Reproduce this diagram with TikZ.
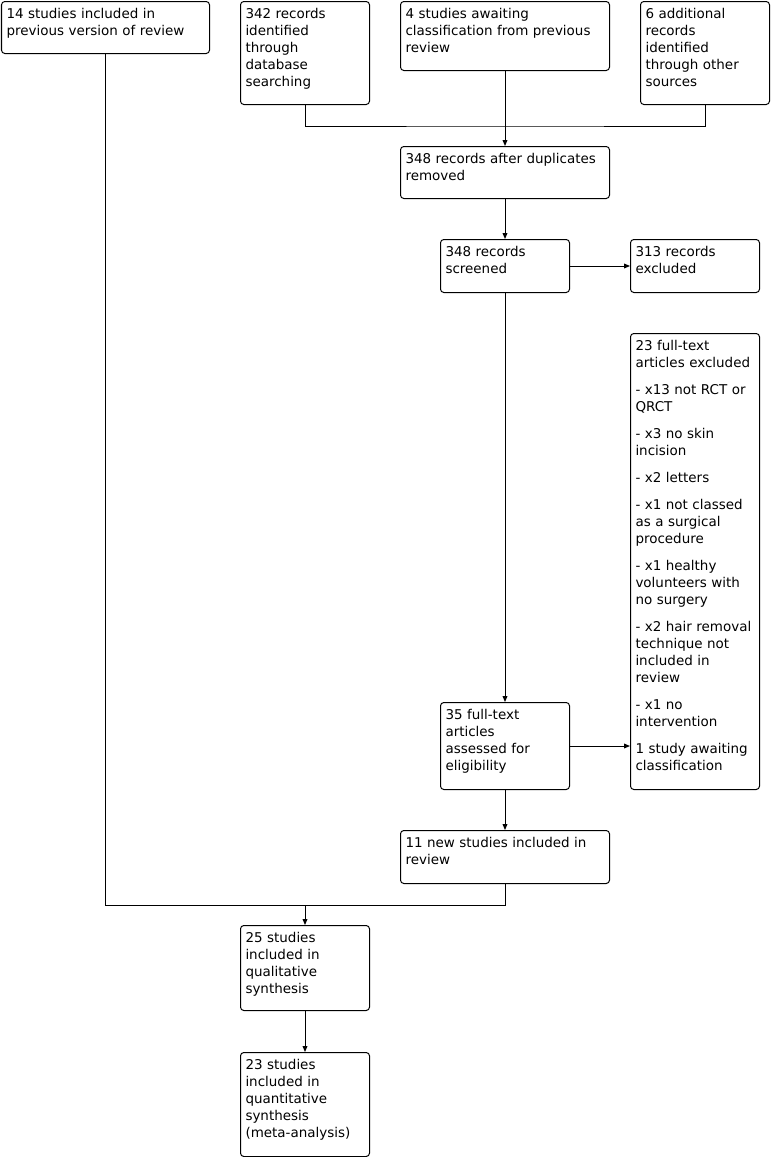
\documentclass[tikz,border=0pt]{standalone}
\usepackage{fontspec}
\setmainfont{DejaVu Sans}
\usetikzlibrary{arrows.meta,positioning,calc}

\begin{document}
\begin{tikzpicture}[x=0.75pt, y=-0.75pt,
    pbox/.style 2 args={draw, line width=0.75pt, rounded corners=2.5pt, anchor=north west,
      align=left, inner xsep=3.75pt, inner ysep=5.25pt, text height=7.5pt,
      text width=#1, text depth=#2, font=\fontsize{10.1pt}{12.75pt}\selectfont},
    arr/.style={line width=0.75pt, -{Triangle[length=4.5pt,width=3.6pt]}},
    ln/.style={line width=0.75pt}]
  \useasboundingbox (0,0) rectangle (772,1157);
  % top row
  \node[pbox={148.5pt}{21pt}] (prev) at (1,1) {14 studies included in\\previous version of review};
  \node[pbox={89.25pt}{59.25pt}] (db) at (240,1) {342 records\\identified\\through\\database\\searching};
  \node[pbox={149.25pt}{33.75pt}] (await) at (400,1) {4 studies awaiting\\classification from previous\\review};
  \node[pbox={89.25pt}{59.25pt}] (other) at (640,1) {6 additional\\records\\identified\\through other\\sources};
  % screening
  \node[pbox={149.25pt}{21pt}] (dupl) at (400,146) {348 records after duplicates\\removed};
  \node[pbox={89.25pt}{21.75pt}] (scr) at (440,239) {348 records\\screened};
  \node[pbox={89.25pt}{21.75pt}] (excl) at (630,239) {313 records\\excluded};
  \node[pbox={89.25pt}{324pt}] (ftex) at (630,333) {23 full-text\\articles excluded\\[7.5pt]
    - x13 not RCT or\\QRCT\\[7.5pt]
    - x3 no skin\\incision\\[7.5pt]
    - x2 letters\\[7.5pt]
    - x1 not classed\\as a surgical\\procedure\\[7.5pt]
    - x1 healthy\\volunteers with\\no surgery\\[7.5pt]
    - x2 hair removal\\technique not\\included in\\review\\[7.5pt]
    - x1 no\\intervention\\[7.5pt]
    1 study awaiting\\classification};
  \node[pbox={89.25pt}{47.25pt}] (elig) at (440,702) {35 full-text\\articles\\assessed for\\eligibility};
  \node[pbox={149.25pt}{21.75pt}] (new) at (400,830) {11 new studies included in\\review};
  % included
  \node[pbox={89.25pt}{45.75pt}] (qual) at (240,925) {25 studies\\included in\\qualitative\\synthesis};
  \node[pbox={89.25pt}{60pt}] (quant) at (240,1052) {23 studies\\included in\\quantitative\\synthesis\\(meta-analysis)};

  \coordinate (join) at (await.south |- 0,126);
  \coordinate (merge) at (qual.north |- 0,905);
  \draw[ln] (db.south) |- (join) -| (other.south);
  \draw[arr] (await.south) -- (dupl.north);
  \draw[arr] (dupl.south) -- (scr.north);
  \draw[arr] (scr.east) -- (excl.west);
  \draw[arr] (scr.south) -- (elig.north);
  \draw[arr] (elig.east) -- (elig.east -| ftex.west);
  \draw[arr] (elig.south) -- (new.north);
  \draw[ln] (prev.south) |- (merge) -| (new.south);
  \draw[arr] (merge) -- (qual.north);
  \draw[arr] (qual.south) -- (quant.north);
\end{tikzpicture}
\end{document}
